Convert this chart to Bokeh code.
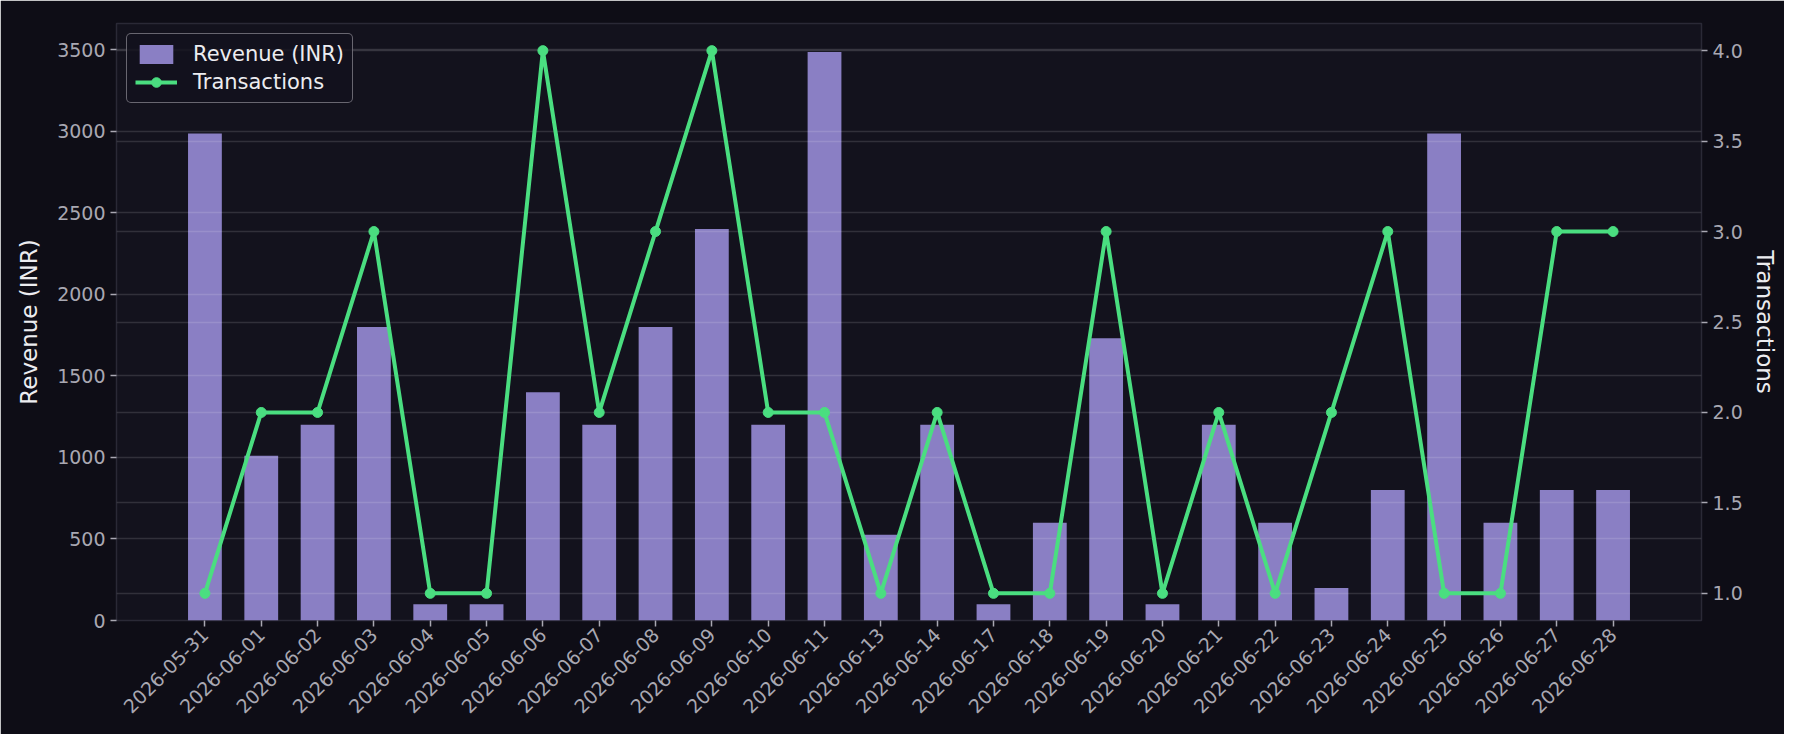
from bokeh.plotting import figure
from bokeh.models import (Range1d, LinearAxis, FixedTicker, Grid, Legend, LegendItem,
                          ColumnDataSource, PrintfTickFormatter)
from bokeh.embed import file_html
from bokeh.resources import INLINE
import math

dates = ["2026-05-31", "2026-06-01", "2026-06-02", "2026-06-03", "2026-06-04", "2026-06-05",
         "2026-06-06", "2026-06-07", "2026-06-08", "2026-06-09", "2026-06-10", "2026-06-11",
         "2026-06-13", "2026-06-14", "2026-06-17", "2026-06-18", "2026-06-19", "2026-06-20",
         "2026-06-21", "2026-06-22", "2026-06-23", "2026-06-24", "2026-06-25", "2026-06-26",
         "2026-06-27", "2026-06-28"]
revenue = [2985, 1010, 1200, 1800, 100, 100, 1400, 1200, 1800, 2400, 1200, 3485,
           525, 1200, 100, 600, 1730, 100, 1200, 600, 200, 800, 2985, 600, 800, 800]
transactions = [1, 2, 2, 3, 1, 1, 4, 2, 3, 4, 2, 2, 1, 2, 1, 1, 3, 1, 2, 1, 2, 3, 1, 1, 3, 3]
rev_ticks = [0, 500, 1000, 1500, 2000, 2500, 3000, 3500]
tx_ticks = [1.0, 1.5, 2.0, 2.5, 3.0, 3.5, 4.0]

FONT = "DejaVu Sans"
OUTER_BG = "#0e0d16"
PLOT_BG = "#13121d"
BAR = "#8a7fc4"
GREEN = "#4ade80"
GRID = "#ffffff"
TICK_TXT = "#a9a8b2"
LABEL_TXT = "#ececf0"

xs = list(range(len(dates)))
src = ColumnDataSource(dict(x=xs, rev=revenue, tx=transactions))
x_start, x_end = -1.57, len(dates) - 1 + 1.57
y_end = 3660

p = figure(width=1784, height=734, output_backend="svg", toolbar_location=None,
           x_range=Range1d(x_start, x_end),
           y_range=Range1d(0, y_end),
           background_fill_color=PLOT_BG, border_fill_color=OUTER_BG,
           min_border_left=116, min_border_right=83, min_border_top=23, min_border_bottom=114)
p.extra_y_ranges = {"tx": Range1d(0.85, 4.15)}
p.outline_line_color = "#2a2936"
p.outline_line_width = 1.5

bars = p.vbar(x="x", top="rev", width=0.6, source=src, fill_color=BAR, line_color=None,
              level="image")
ln = p.line(x="x", y="tx", source=src, y_range_name="tx", line_color=GREEN, line_width=4)
pts = p.scatter(x="x", y="tx", source=src, y_range_name="tx", size=10,
                fill_color=GREEN, line_color=GREEN)

# axes
p.xaxis.ticker = FixedTicker(ticks=xs)
p.xaxis.major_label_overrides = {i: d for i, d in enumerate(dates)}
p.xaxis.major_label_orientation = math.pi / 4
p.yaxis.ticker = FixedTicker(ticks=rev_ticks)
p.yaxis.axis_label = "Revenue (INR)"

right = LinearAxis(y_range_name="tx", ticker=FixedTicker(ticks=tx_ticks),
                   formatter=PrintfTickFormatter(format="%.1f"),
                   axis_label="Transactions")
p.add_layout(right, "right")

for ax in [p.xaxis[0], p.yaxis[0], right]:
    ax.axis_line_color = None
    ax.major_tick_line_color = TICK_TXT
    ax.major_tick_line_width = 1.5
    ax.major_tick_out = 6
    ax.major_tick_in = 0
    ax.minor_tick_line_color = None
    ax.major_label_text_color = TICK_TXT
    ax.major_label_text_font = FONT
    ax.major_label_text_font_size = "19px"
    ax.axis_label_text_color = LABEL_TXT
    ax.axis_label_text_font = FONT
    ax.axis_label_text_font_size = "23px"
    ax.axis_label_text_font_style = "normal"
p.yaxis[0].axis_label_standoff = 12
right.axis_label_standoff = 6

# grids
p.xgrid.grid_line_color = None
p.ygrid.grid_line_color = GRID
p.ygrid.grid_line_alpha = 0.13
p.ygrid.grid_line_width = 1.5
p.ygrid.ticker = FixedTicker(ticks=rev_ticks)
g2 = Grid(dimension=1, ticker=FixedTicker(ticks=tx_ticks), y_range_name="tx",
          grid_line_color=GRID, grid_line_alpha=0.13, grid_line_width=1.5)
p.add_layout(g2)

legend = Legend(items=[LegendItem(label="Revenue (INR)", renderers=[bars]),
                       LegendItem(label="Transactions", renderers=[ln, pts])],
                location="top_left")
legend.background_fill_color = PLOT_BG
legend.background_fill_alpha = 0.85
legend.border_line_color = "#bdbcc4"
legend.border_line_width = 1.5
if "border_radius" in Legend.properties():
    legend.border_radius = 5
legend.label_text_color = LABEL_TXT
legend.label_text_font = FONT
legend.label_text_font_size = "21px"
legend.glyph_width = 42
legend.glyph_height = 24
legend.label_height = 24
legend.label_standoff = 16
legend.spacing = 4
legend.padding = 8
legend.margin = 10
p.add_layout(legend)

open("out.html", "w").write(file_html(p, INLINE))
